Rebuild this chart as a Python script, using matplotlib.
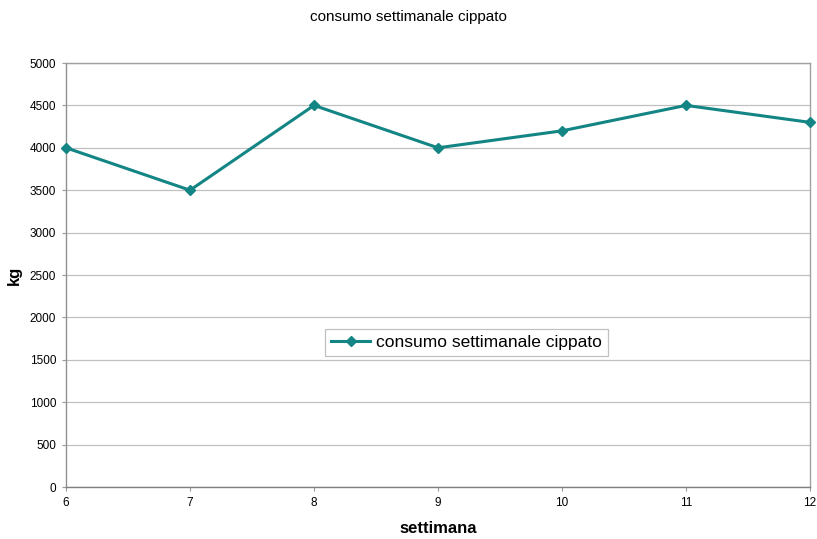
import matplotlib.pyplot as plt

plt.rcParams['font.family'] = ['Liberation Sans', 'DejaVu Sans']

settimane = [6, 7, 8, 9, 10, 11, 12]
consumo_kg = [4000, 3500, 4500, 4000, 4200, 4500, 4300]
y_ticks = list(range(0, 5001, 500))

fig = plt.figure(figsize=(8.17, 5.39), dpi=100)
ax = fig.add_axes([66 / 817, 1 - 487 / 539, (810 - 66) / 817, (487 - 63) / 539])

ax.plot(settimane, consumo_kg, color='#138584', linewidth=2.2, marker='D',
        markersize=5.5, label='consumo settimanale cippato', clip_on=False, zorder=5)

ax.set_xlim(6, 12)
ax.set_ylim(0, 5000)
ax.set_xticks(settimane)
ax.set_yticks(y_ticks)
ax.tick_params(labelsize=8.5, length=3, color='#999999', pad=4)
ax.yaxis.grid(True, color='#c0c0c0', linewidth=0.9)
ax.set_axisbelow(True)
for s in ax.spines.values():
    s.set_color('#a0a0a0')
    s.set_linewidth(1.0)
ax.spines['left'].set_color('#909090')
ax.spines['bottom'].set_color('#808080')

ax.set_xlabel('settimana', fontsize=12, fontweight='bold', labelpad=9)
ax.set_ylabel('kg', fontsize=12, fontweight='bold', labelpad=6)
fig.text(0.5, 1 - 17 / 539, 'consumo settimanale cippato', ha='center', va='center', fontsize=11)

leg = ax.legend(loc='center', fontsize=12.5, fancybox=False,
                framealpha=1, edgecolor='#c0c0c0', borderpad=0.35, handlelength=2.2,
                handletextpad=0.35)
leg.set_bbox_to_anchor(((321 + 612) / 2 / 817, 1 - 342.5 / 539), transform=fig.transFigure)
leg.get_frame().set_linewidth(0.9)

fig.savefig('out.png', dpi=100)
